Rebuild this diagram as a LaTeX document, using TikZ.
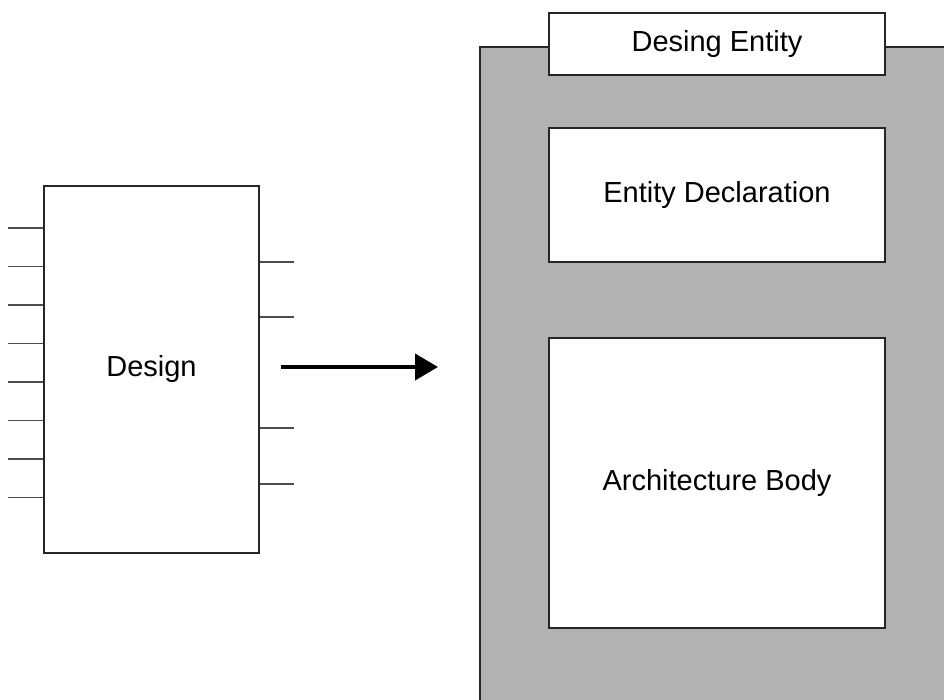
\documentclass[tikz,border=0pt]{standalone}
\usepackage{fontspec}
\setmainfont{Liberation Sans}
\usetikzlibrary{arrows.meta, positioning}

\begin{document}
\begin{tikzpicture}[x = 1pt, y = -1pt, % one unit per pixel
                > = {Triangle[length=23pt, width=26pt]}, % arrow head style
                line width = 1.3pt
            ]

            \tikzset{
                every node/.style = {inner sep = 0pt, font = \fontsize{29}{34}\selectfont},
                blockbox/.style = {draw = black!85, fill = white, rectangle},
                pinline/.style = {draw = black!70},
                shell/.style = {fill = black!30, rectangle, anchor = north west}
            }

            \useasboundingbox (0,0) rectangle (944,700);

            % the design with its ports
            \node[blockbox, minimum width = 215pt, minimum height = 367pt]
                (design) at (151.5,369.5) {Design};
            \foreach \y in {228,266.5,305,343.5,382,420.5,459,497.5}
                \draw[pinline] (design.west |- 0,\y) -- ++(-35,0);
            \foreach \y in {262,317,428,484}
                \draw[pinline] (design.east |- 0,\y) -- ++(34,0);

            % the entity and its parts
            \node[shell, minimum width = 464pt, minimum height = 653pt]
                (entity) at (480,47) {};
            \draw[draw = black!85] (entity.north east) -- (entity.north west)
                -- (entity.south west);

            \node[blockbox, minimum width = 336pt, minimum height = 62pt]
                (header) at (717,44) {Desing Entity};
            \node[blockbox, minimum width = 336pt, minimum height = 134pt]
                (decl) at (717,195) {Entity Declaration};
            \node[blockbox, minimum width = 336pt, minimum height = 290pt]
                (arch) at (717,483) {Architecture Body};

            \draw[->, line width = 4pt] ([xshift = 21pt, yshift = 2.5pt]design.east)
                -- ([xshift = -42pt, yshift = 2.5pt]entity.west |- design.east);
        \end{tikzpicture}
\end{document}
